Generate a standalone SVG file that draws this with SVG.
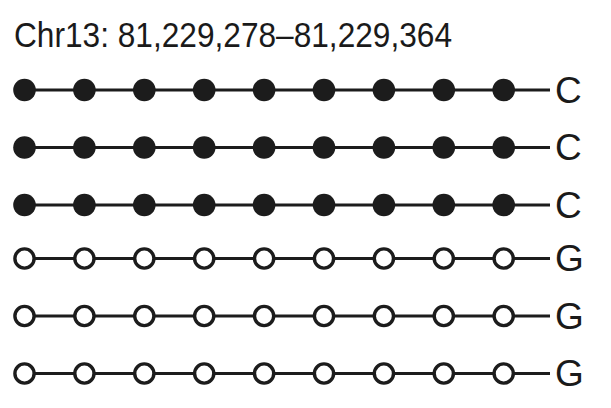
<svg xmlns="http://www.w3.org/2000/svg" width="611" height="408" viewBox="0 0 611 408">
<style>
.t{font-family:"Liberation Sans",Arial,sans-serif;fill:#1a1a1a}
.lab{font-size:37px}
.ln{stroke:#1c1c1c;stroke-width:3.2;fill:none}
.f{fill:#1c1c1c}
.o{fill:#fff;stroke:#1c1c1c;stroke-width:3.4}
</style>
<defs>
<circle id="fc" r="11.3" class="f"/>
<circle id="oc" r="9.6" class="o"/>
</defs>
<rect width="611" height="408" fill="#fff"/>
<text class="t" x="14" y="47.3" font-size="34.5" textLength="438" lengthAdjust="spacingAndGlyphs">Chr13: 81,229,278–81,229,364</text>
<g id="connectors">
<line class="ln" x1="24.5" y1="90" x2="550" y2="90"/>
<line class="ln" x1="24.5" y1="147.5" x2="550" y2="147.5"/>
<line class="ln" x1="24.5" y1="205" x2="550" y2="205"/>
<line class="ln" x1="24.5" y1="258.5" x2="550" y2="258.5"/>
<line class="ln" x1="24.5" y1="316" x2="550" y2="316"/>
<line class="ln" x1="24.5" y1="373.5" x2="550" y2="373.5"/>
</g>
<g id="row1">
<use href="#fc" x="24.5" y="90"/><use href="#fc" x="84.4" y="90"/><use href="#fc" x="144.3" y="90"/><use href="#fc" x="204.2" y="90"/><use href="#fc" x="264.1" y="90"/><use href="#fc" x="324" y="90"/><use href="#fc" x="383.9" y="90"/><use href="#fc" x="443.8" y="90"/><use href="#fc" x="503.7" y="90"/>
<text class="t lab" x="555" y="102.5">C</text>
</g>
<g id="row2">
<use href="#fc" x="24.5" y="147.5"/><use href="#fc" x="84.4" y="147.5"/><use href="#fc" x="144.3" y="147.5"/><use href="#fc" x="204.2" y="147.5"/><use href="#fc" x="264.1" y="147.5"/><use href="#fc" x="324" y="147.5"/><use href="#fc" x="383.9" y="147.5"/><use href="#fc" x="443.8" y="147.5"/><use href="#fc" x="503.7" y="147.5"/>
<text class="t lab" x="555" y="160">C</text>
</g>
<g id="row3">
<use href="#fc" x="24.5" y="205"/><use href="#fc" x="84.4" y="205"/><use href="#fc" x="144.3" y="205"/><use href="#fc" x="204.2" y="205"/><use href="#fc" x="264.1" y="205"/><use href="#fc" x="324" y="205"/><use href="#fc" x="383.9" y="205"/><use href="#fc" x="443.8" y="205"/><use href="#fc" x="503.7" y="205"/>
<text class="t lab" x="555" y="217.5">C</text>
</g>
<g id="row4">
<use href="#oc" x="24.5" y="258.5"/><use href="#oc" x="84.4" y="258.5"/><use href="#oc" x="144.3" y="258.5"/><use href="#oc" x="204.2" y="258.5"/><use href="#oc" x="264.1" y="258.5"/><use href="#oc" x="324" y="258.5"/><use href="#oc" x="383.9" y="258.5"/><use href="#oc" x="443.8" y="258.5"/><use href="#oc" x="503.7" y="258.5"/>
<text class="t lab" x="555" y="271">G</text>
</g>
<g id="row5">
<use href="#oc" x="24.5" y="316"/><use href="#oc" x="84.4" y="316"/><use href="#oc" x="144.3" y="316"/><use href="#oc" x="204.2" y="316"/><use href="#oc" x="264.1" y="316"/><use href="#oc" x="324" y="316"/><use href="#oc" x="383.9" y="316"/><use href="#oc" x="443.8" y="316"/><use href="#oc" x="503.7" y="316"/>
<text class="t lab" x="555" y="328.5">G</text>
</g>
<g id="row6">
<use href="#oc" x="24.5" y="373.5"/><use href="#oc" x="84.4" y="373.5"/><use href="#oc" x="144.3" y="373.5"/><use href="#oc" x="204.2" y="373.5"/><use href="#oc" x="264.1" y="373.5"/><use href="#oc" x="324" y="373.5"/><use href="#oc" x="383.9" y="373.5"/><use href="#oc" x="443.8" y="373.5"/><use href="#oc" x="503.7" y="373.5"/>
<text class="t lab" x="555" y="386">G</text>
</g>
</svg>
